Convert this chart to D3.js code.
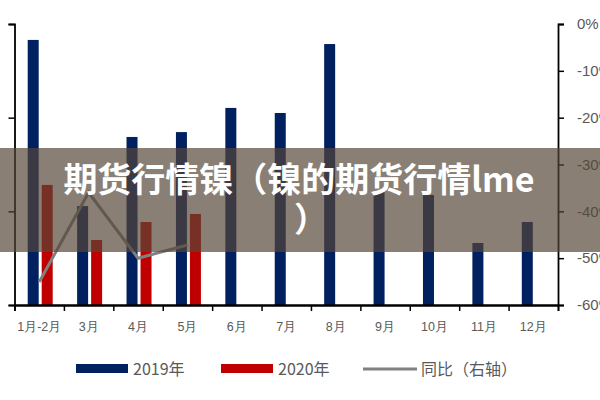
<!DOCTYPE html>
<html>
<head>
<meta charset="utf-8">
<script src="https://cdn.jsdelivr.net/npm/d3@7"></script>
<style>
  body { margin: 0; background: #fff; }
  svg { display: block; font-family: "Noto Sans CJK SC", "Noto Sans", sans-serif; }
</style>
</head>
<body>
<script>
// data
const months = ["1月-2月", "3月", "4月", "5月", "6月", "7月", "8月", "9月", "10月", "11月", "12月"];
const output2019 = [1.415, 0.528, 0.897, 0.923, 1.052, 1.025, 1.393, 0.603, 0.587, 0.331, 0.443];
const output2020 = [0.641, 0.347, 0.443, 0.486];
const yoy = [-55.1, -36.0, -50.0, -47.2];
const leftTicks = [0, 0.5, 1.0, 1.5];
const rightTicks = [0, -10, -20, -30, -40, -50, -60];

const W = 600, H = 400;
const plotL = 14.5, plotR = 558, plotT = 24, plotB = 305;

const svg = d3.select("body").append("svg")
  .attr("width", W)
  .attr("height", H);

const x = d3.scaleBand().domain(months).range([plotL, plotR]);
const y = d3.scaleLinear().domain([0, 1.5]).range([plotB, plotT]);
const y2 = d3.scaleLinear().domain([-60, 0]).range([plotB, plotT]);

const barW = 11;
const mid = d => x(d) + x.bandwidth() / 2;

// bars 2019
svg.append("g")
  .selectAll("rect")
  .data(output2019)
  .join("rect")
  .attr("x", (d, i) => mid(months[i]) - 11.5)
  .attr("y", d => y(d))
  .attr("width", barW)
  .attr("height", d => y(0) - y(d))
  .attr("fill", "#002060");

// bars 2020
svg.append("g")
  .selectAll("rect")
  .data(output2020)
  .join("rect")
  .attr("x", (d, i) => mid(months[i]) + 2.5)
  .attr("y", d => y(d))
  .attr("width", barW)
  .attr("height", d => y(0) - y(d))
  .attr("fill", "#c00000");

// yoy line (right axis)
const line = d3.line()
  .x((d, i) => mid(months[i]))
  .y(d => y2(d));

svg.append("path")
  .datum(yoy)
  .attr("d", line)
  .attr("fill", "none")
  .attr("stroke", "#808080")
  .attr("stroke-width", 3);

// left axis (labels sit just outside the picture, as in the original crop)
const gl = svg.append("g")
  .attr("transform", `translate(${plotL},0)`)
  .call(d3.axisLeft(y).tickValues(leftTicks).tickSize(6).tickPadding(16).tickFormat(d3.format(".1f")));

// right axis
const gr = svg.append("g")
  .attr("transform", `translate(${plotR},0)`)
  .call(d3.axisRight(y2).tickValues(rightTicks).tickSize(6).tickPadding(13).tickFormat(d => d + "%"));

// bottom axis: labels centered, ticks between categories
const gb = svg.append("g")
  .attr("transform", `translate(0,${plotB})`)
  .call(d3.axisBottom(x).tickSize(0).tickPadding(17));

const tickScale = d3.scaleLinear().domain([0, months.length]).range([plotL, plotR]);
svg.append("g")
  .attr("transform", `translate(0,${plotB})`)
  .call(d3.axisBottom(tickScale).ticks(months.length).tickSize(6).tickFormat(""));

svg.selectAll(".domain").attr("stroke", "#000").attr("stroke-width", 1.8);
svg.selectAll(".tick line").attr("stroke", "#000").attr("stroke-width", 1.5);
gl.selectAll("text").attr("fill", "#595959").style("font-size", "13px");
gr.selectAll("text").attr("fill", "#595959").style("font-size", "15px")
  .attr("font-family", "Liberation Sans, sans-serif");
gb.selectAll("text").attr("fill", "#595959").style("font-size", "12.5px");

// legend
const legend = [
  { label: "2019年", color: "#002060", type: "rect", x: 76 },
  { label: "2020年", color: "#c00000", type: "rect", x: 221 },
  { label: "同比（右轴）", color: "#808080", type: "line", x: 363 }
];
const lg = svg.append("g").attr("transform", "translate(0,369)");
legend.forEach(l => {
  if (l.type === "rect") {
    lg.append("rect").attr("x", l.x).attr("y", -5).attr("width", 52).attr("height", 9).attr("fill", l.color);
  } else {
    lg.append("line").attr("x1", l.x).attr("x2", l.x + 54).attr("y1", 0).attr("y2", 0)
      .attr("stroke", l.color).attr("stroke-width", 3);
  }
  lg.append("text")
    .attr("x", l.x + (l.type === "rect" ? 57 : 58))
    .attr("y", 6)
    .attr("fill", "#595959")
    .style("font-size", "16px")
    .text(l.label);
});

// overlay banner with title
svg.append("rect")
  .attr("x", 0).attr("y", 148)
  .attr("width", W).attr("height", 104)
  .attr("fill", "rgba(85,70,55,0.69)");

const title = svg.append("text")
  .attr("text-anchor", "middle")
  .attr("fill", "#fff")
  .style("font-size", "34px")
  .style("font-weight", "bold");
title.append("tspan").attr("x", 299).attr("y", 192).text("期货行情镍（镍的期货行情lme");
title.append("tspan").attr("x", 311).attr("y", 232).text("）");
</script>
</body>
</html>
